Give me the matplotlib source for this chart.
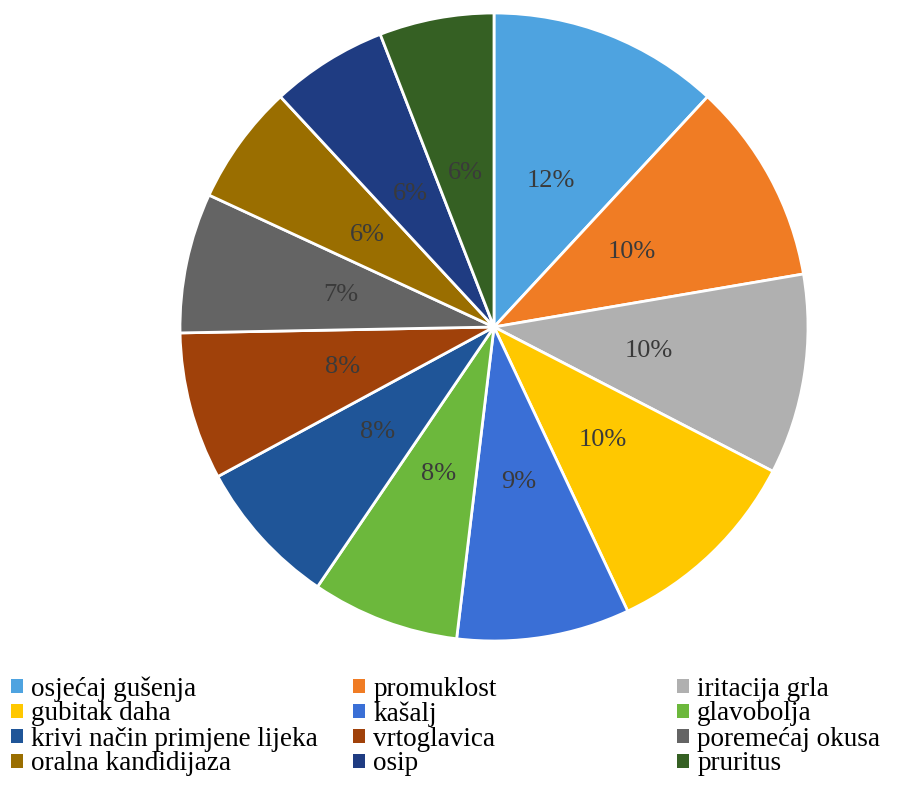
import matplotlib.pyplot as plt
from matplotlib.patches import Patch

labels = ['osjećaj gušenja', 'promuklost', 'iritacija grla', 'gubitak daha',
          'kašalj', 'glavobolja', 'krivi način primjene lijeka', 'vrtoglavica',
          'poremećaj okusa', 'oralna kandidijaza', 'osip', 'pruritus']
values = [11.9, 10.4, 10.3, 10.4, 8.9, 7.6, 7.6, 7.6, 7.2, 6.2, 6.0, 5.9]
colors = ['#4EA3E0', '#F07C24', '#B0B0B0', '#FFC800', '#3A6FD6', '#6CB83C',
          '#1F5598', '#A0410A', '#646464', '#9A6E00', '#1F3C82', '#356023']

plt.rcParams['font.family'] = ['Liberation Serif', 'DejaVu Serif']

fig = plt.figure(figsize=(9.01, 7.85), dpi=100)
ax = fig.add_axes([494 / 901 - 314 / 901, 1 - 641 / 785, 628 / 901, 628 / 785])

wedges, texts, autotexts = ax.pie(values, colors=colors, startangle=90, counterclock=False,
                                  autopct='%.0f%%', pctdistance=0.5,
                                  wedgeprops=dict(edgecolor='white', linewidth=2))
for t in autotexts:
    t.set_fontsize(19)
    t.set_color('#3a3a3a')
ax.set_xlim(-1, 1)
ax.set_ylim(-1, 1)
ax.set_aspect('equal')
ax.axis('off')

# legend: 3 columns x 4 rows, Excel style (equal column widths, fixed row pitch)
col_x = [11, 353, 677]
row_y = [689, 714, 739, 764]
for c in range(3):
    for r in range(4):
        i = r * 3 + c
        fig.legend([Patch(facecolor=colors[i], edgecolor='none')], [labels[i]],
                   loc='center left', bbox_to_anchor=(col_x[c] / 901, 1 - row_y[r] / 785),
                   frameon=False, fontsize=19.5, handlelength=0.45, handleheight=0.45,
                   handletextpad=0.3, borderpad=0, borderaxespad=0)

fig.savefig('out.png', dpi=100)
